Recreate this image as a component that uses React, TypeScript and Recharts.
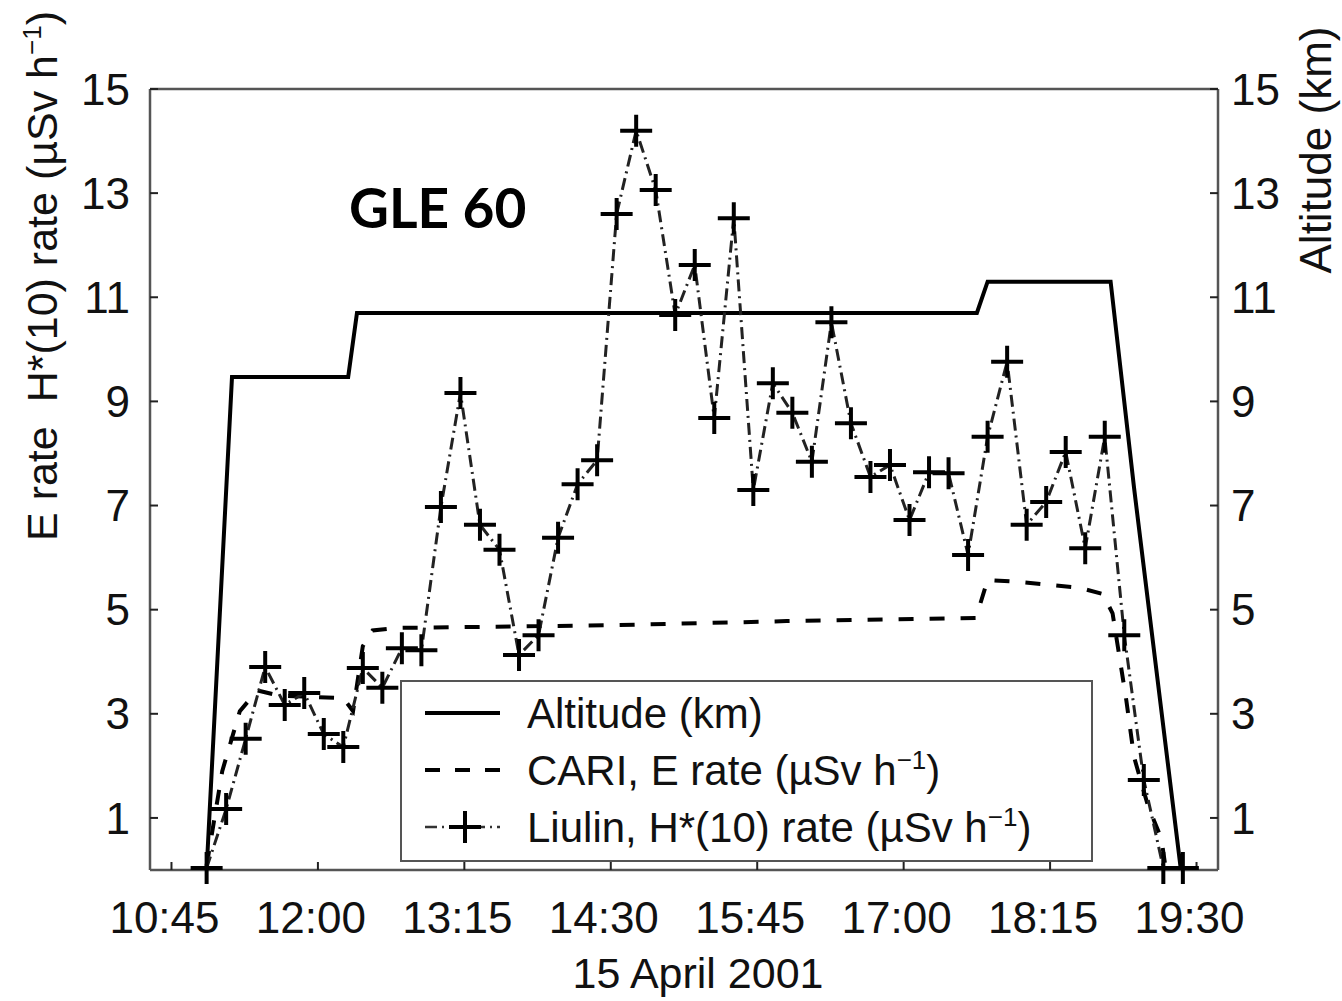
import React from 'react';
import { LineChart, Line, XAxis, YAxis, Legend, Label } from 'recharts';

// Times are minutes after midnight, 15 April 2001
const liulinTimes = [
  663, 673, 683, 693, 703, 713, 723, 733, 743, 753,
  763, 773, 783, 793, 803, 813, 823, 833, 843, 853,
  863, 873, 883, 893, 903, 913, 923, 933, 943, 953,
  963, 973, 983, 993, 1003, 1013, 1023, 1033, 1043, 1053,
  1063, 1073, 1083, 1093, 1103, 1113, 1123, 1133, 1143, 1153,
  1163,
];
const liulinRate = [
  0.04, 1.17, 2.52, 3.9, 3.17, 3.4, 2.61, 2.36, 3.88, 3.5,
  4.26, 4.22, 6.97, 9.16, 6.63, 6.15, 4.13, 4.51, 6.38, 7.41,
  7.87, 12.6, 14.2, 13.06, 10.66, 11.62, 8.68, 12.52, 7.3, 9.35,
  8.78, 7.84, 10.52, 8.58, 7.55, 7.78, 6.72, 7.64, 7.62, 6.05,
  8.32, 9.76, 6.63, 7.07, 8.03, 6.18, 8.32, 4.51, 1.73, 0.04,
  0.04,
];

const cariTimes = [
  663, 671, 680, 689, 700, 733, 738, 743, 748, 760,
  870, 960, 1057, 1063, 1080, 1110, 1122, 1127, 1134, 1138,
  1145, 1152, 1154,
];
const cariRate = [
  0.08, 1.9, 3.05, 3.45, 3.35, 3.3, 3.05, 4.3, 4.6, 4.65,
  4.7, 4.78, 4.84, 5.57, 5.53, 5.42, 5.3, 4.93, 3.27, 2.17,
  1.25, 0.6, 0.08,
];

const altitudeTimes = [663, 676, 735.5, 740, 1057.5, 1063, 1126, 1138, 1162];
const altitudeKm = [0, 9.47, 9.47, 10.7, 10.7, 11.3, 11.3, 7.34, 0];

const timeTicks = [645, 720, 795, 870, 945, 1020, 1095, 1170];
const valueTicks = [1, 3, 5, 7, 9, 11, 13, 15];

const liulinData = liulinTimes.map((t, i) => ({ t, v: liulinRate[i] }));
const cariData = cariTimes.map((t, i) => ({ t, v: cariRate[i] }));
const altitudeData = altitudeTimes.map((t, i) => ({ t, v: altitudeKm[i] }));

const FONT = '"Liberation Sans", Arial, Helvetica, sans-serif';
const FRAME = '#555';

const fmtTime = (m: number) => {
  const h = Math.floor(m / 60);
  const mm = Math.round(m - h * 60);
  return `${h}:${mm < 10 ? '0' + mm : mm}`;
};

const Cross = (props: any) => {
  const { cx, cy, index } = props;
  if (cx == null || cy == null) return <g key={`c${index}`} />;
  return (
    <path
      key={`c${index}`}
      d={`M${cx - 16},${cy}H${cx + 16}M${cx},${cy - 16}V${cy + 16}`}
      stroke="#000"
      strokeWidth={4}
      fill="none"
    />
  );
};

const LegendBox = () => (
  <svg width={693} height={182} style={{ display: 'block' }}>
    <rect x={1} y={1} width={691} height={180} fill="#fff" stroke={FRAME} strokeWidth={2} />
    <line x1={25} x2={100} y1={33} y2={33} stroke="#000" strokeWidth={4} />
    <line x1={25} x2={100} y1={90} y2={90} stroke="#000" strokeWidth={4} strokeDasharray="15 15" />
    <line x1={25} x2={100} y1={147} y2={147} stroke="#333" strokeWidth={2.5} strokeDasharray="12 5 2 5" />
    <path d="M49,147H81M65,131V163" stroke="#000" strokeWidth={4} fill="none" />
    <g fontFamily={FONT} fontSize={42} fill="#111">
      <text x={127} y={48}>Altitude (km)</text>
      <text x={127} y={105}>
        CARI, E rate (µSv h<tspan fontSize={26} dy={-16}>−1</tspan><tspan dy={16}>)</tspan>
      </text>
      <text x={127} y={162}>
        Liulin, H*(10) rate (µSv h<tspan fontSize={26} dy={-16}>−1</tspan><tspan dy={16}>)</tspan>
      </text>
    </g>
  </svg>
);

export default function App() {
  return (
    <div style={{ position: 'absolute', left: 0, top: 0, width: 1342, height: 1001, background: '#fff' }}>
      <LineChart
        width={1342}
        height={1001}
        margin={{ top: 88, right: 44, bottom: 71, left: 70 }}
      >
        <XAxis
          dataKey="t"
          type="number"
          domain={[634, 1181]}
          ticks={timeTicks}
          tickFormatter={fmtTime}
          allowDataOverflow
          height={60}
          tickSize={-8}
          tickMargin={40}
          axisLine={{ stroke: FRAME, strokeWidth: 2.5 }}
          tickLine={{ stroke: '#222', strokeWidth: 2 }}
          tick={{ fontSize: 44, fontFamily: FONT, fill: '#111', dx: -7 }}
        >
          <Label
            content={(p: any) => {
              const vb = p.viewBox || { x: 150, width: 1068, y: 870 };
              return (
                <text
                  x={vb.x + vb.width / 2 + 14}
                  y={988}
                  textAnchor="middle"
                  fontSize={43}
                  fontFamily={FONT}
                  fill="#111"
                >
                  15 April 2001
                </text>
              );
            }}
          />
        </XAxis>
        <XAxis
          xAxisId="top"
          dataKey="t"
          type="number"
          orientation="top"
          domain={[634, 1181]}
          ticks={timeTicks}
          tickFormatter={() => ''}
          height={1}
          tickSize={-8}
          axisLine={{ stroke: FRAME, strokeWidth: 2.5 }}
          tickLine={{ stroke: '#222', strokeWidth: 2 }}
        />
        <YAxis
          yAxisId="left"
          type="number"
          domain={[0, 15]}
          ticks={valueTicks}
          width={80}
          tickSize={-8}
          tickMargin={28}
          axisLine={{ stroke: FRAME, strokeWidth: 2.5 }}
          tickLine={{ stroke: '#222', strokeWidth: 2 }}
          tick={{ fontSize: 44, fontFamily: FONT, fill: '#111' }}
        >
          <Label
            content={() => (
              <text
                x={57}
                y={276}
                transform="rotate(-90, 57, 276)"
                textAnchor="middle"
                fontSize={43}
                fontFamily={FONT}
                fill="#111"
              >
                E rate{'\u00a0\u00a0'}H*(10) rate (µSv h<tspan fontSize={26} dy={-16}>−1</tspan><tspan dy={16}>)</tspan>
              </text>
            )}
          />
        </YAxis>
        <YAxis
          yAxisId="right"
          orientation="right"
          type="number"
          domain={[0, 15]}
          ticks={valueTicks}
          width={80}
          tickSize={-8}
          tickMargin={21}
          axisLine={{ stroke: FRAME, strokeWidth: 2.5 }}
          tickLine={{ stroke: '#222', strokeWidth: 2 }}
          tick={{ fontSize: 44, fontFamily: FONT, fill: '#111', textAnchor: 'start' }}
        >
          <Label
            content={() => (
              <text
                x={1331}
                y={150}
                transform="rotate(-90, 1331, 150)"
                textAnchor="middle"
                fontSize={44}
                fontFamily={FONT}
                fill="#111"
              >
                Altitude (km)
              </text>
            )}
          />
        </YAxis>
        <Line
          yAxisId="right"
          data={altitudeData}
          dataKey="v"
          name="Altitude (km)"
          stroke="#000"
          strokeWidth={4}
          dot={false}
          isAnimationActive={false}
          type="linear"
        />
        <Line
          yAxisId="left"
          data={cariData}
          dataKey="v"
          name="CARI, E rate"
          stroke="#000"
          strokeWidth={4}
          strokeDasharray="15 16"
          dot={false}
          isAnimationActive={false}
          type="linear"
        />
        <Line
          yAxisId="left"
          data={liulinData}
          dataKey="v"
          name="Liulin, H*(10) rate"
          stroke="#222"
          strokeWidth={3}
          strokeDasharray="12 5 2 5"
          dot={Cross}
          isAnimationActive={false}
          type="linear"
        />
        <Legend
          layout="vertical"
          align="center"
          verticalAlign="middle"
          content={() => <LegendBox />}
          wrapperStyle={{ left: 400, top: 680, width: 693, height: 182 }}
        />
      </LineChart>
      <div
        style={{
          position: 'absolute',
          left: 349,
          top: 172,
          fontFamily: 'Lato, "Open Sans", sans-serif',
          fontWeight: 700,
          fontSize: 55,
          lineHeight: '70px',
          color: '#000',
          whiteSpace: 'nowrap',
        }}
      >
        GLE 60
      </div>
    </div>
  );
}
